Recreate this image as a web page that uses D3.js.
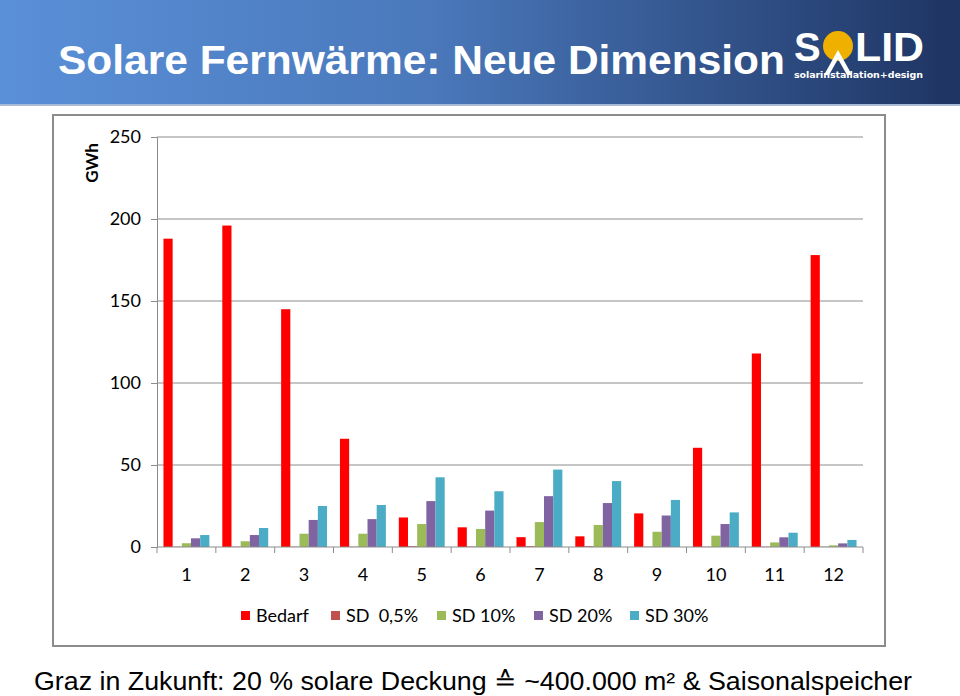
<!DOCTYPE html>
<html>
<head>
<meta charset="utf-8">
<script src="https://cdn.jsdelivr.net/npm/d3@7"></script>
<style>
  body { margin: 0; background: #fff; }
  svg { display: block; }
</style>
</head>
<body>
<svg id="slide" width="960" height="696"></svg>
<script>
// months 1..12
var months = ['1', '2', '3', '4', '5', '6', '7', '8', '9', '10', '11', '12'];
var seriesNames = ['Bedarf', 'SD  0,5%', 'SD 10%', 'SD 20%', 'SD 30%'];
var seriesColors = ['#ff0000', '#c0504d', '#9bbb59', '#8064a2', '#4bacc6'];

var bedarf = [188, 196, 145, 66, 18, 12, 6, 6.5, 20.5, 60.5, 118, 178];
var sd05   = [0.2, 0.2, 0.2, 0.2, 0.5, 0.3, 0.5, 0.5, 0.2, 0.2, 0.2, 0.2];
var sd10   = [2.3, 3.5, 8.1, 8.1, 14, 11, 15.2, 13.4, 9.3, 6.9, 2.8, 1];
var sd20   = [5.3, 7.3, 16.5, 17, 28, 22.2, 31, 26.8, 19.2, 14, 5.9, 2.2];
var sd30   = [7.3, 11.6, 25, 25.6, 42.5, 34, 47.2, 40.2, 28.7, 21.1, 8.7, 4.3];
var yTicks = [0, 50, 100, 150, 200, 250];

var allSeries = [bedarf, sd05, sd10, sd20, sd30];

var svg = d3.select('#slide');

// header band
var defs = svg.append('defs');
var grad = defs.append('linearGradient').attr('id', 'hdr');
grad.append('stop').attr('offset', '0%').attr('stop-color', '#5a90d8');
grad.append('stop').attr('offset', '45%').attr('stop-color', '#4a78bb');
grad.append('stop').attr('offset', '100%').attr('stop-color', '#1e3462');

svg.append('rect')
    .attr('width', 960).attr('height', 104)
    .style('fill', 'url(#hdr)');
svg.append('rect')
    .attr('y', 104).attr('width', 960).attr('height', 2)
    .style('fill', '#a9bcd6');

svg.append('text')
    .attr('x', 58).attr('y', 74)
    .style('font-family', 'Liberation Sans, Arial, sans-serif')
    .style('font-weight', 'bold')
    .style('font-size', '41px')
    .style('fill', '#fff')
    .attr('textLength', 727)
    .attr('lengthAdjust', 'spacingAndGlyphs')
    .text('Solare Fernwärme: Neue Dimension');

// logo
var logo = svg.append('g').attr('transform', 'translate(794,30)');
logo.append('circle').attr('cx', 44).attr('cy', 16).attr('r', 15).style('fill', '#f0b000');
logo.append('path')
    .attr('d', 'M30,45 L44,20 L58,45 L53,45 L44,29 L35,45 Z')
    .style('fill', '#fff');
logo.append('text')
    .attr('x', 0).attr('y', 31)
    .style('font-family', 'Liberation Sans, Arial, sans-serif')
    .style('font-weight', 'bold').style('font-size', '40px').style('fill', '#fff')
    .text('S');
logo.append('text')
    .attr('x', 61).attr('y', 31)
    .style('font-family', 'Liberation Sans, Arial, sans-serif')
    .style('font-weight', 'bold').style('font-size', '40px').style('fill', '#fff')
    .attr('textLength', 69)
    .attr('lengthAdjust', 'spacingAndGlyphs')
    .text('LID');
logo.append('text')
    .attr('x', 0).attr('y', 48)
    .style('font-family', 'DejaVu Sans, sans-serif')
    .style('font-weight', 'bold').style('font-size', '9.5px').style('fill', '#fff')
    .attr('textLength', 129)
    .text('solarinstallation+design');

// chart frame
svg.append('rect')
    .attr('x', 53).attr('y', 115).attr('width', 832).attr('height', 531)
    .style('fill', '#fff').style('stroke', '#8c8c8c').style('stroke-width', 2);

var margin = {left: 157, right: 863, top: 137, bottom: 547};
var font = 'Lato, "Open Sans", sans-serif';

var x0 = d3.scaleBand()
    .domain(months)
    .range([margin.left, margin.right])
    .paddingInner(0.22).paddingOuter(0.11);

var x1 = d3.scaleBand()
    .domain(d3.range(seriesNames.length))
    .range([0, x0.bandwidth()]);

var y = d3.scaleLinear()
    .domain([0, 250])
    .range([margin.bottom, margin.top]);

// gridlines
svg.append('g').selectAll('line')
    .data(yTicks.slice(1))
    .enter().append('line')
    .attr('x1', margin.left).attr('x2', margin.right)
    .attr('y1', y).attr('y2', y)
    .style('stroke', '#8c8c8c').style('stroke-width', 1);

// y axis
var yAxis = svg.append('g')
    .attr('transform', 'translate(' + margin.left + ',0)')
    .call(d3.axisLeft(y).tickValues(yTicks).tickSize(6).tickPadding(10));
yAxis.select('.domain').style('stroke', '#8c8c8c');
yAxis.selectAll('.tick line').style('stroke', '#8c8c8c');
yAxis.selectAll('text')
    .style('font-family', font).style('font-size', '18px').style('fill', '#000');

svg.append('text')
    .attr('transform', 'translate(98,163) rotate(-90)')
    .attr('text-anchor', 'middle')
    .style('font-family', font).style('font-weight', 'bold').style('font-size', '17px')
    .text('GWh');

// bars
var groups = svg.append('g').selectAll('g')
    .data(months)
    .enter().append('g')
    .attr('transform', function(d) { return 'translate(' + (x0(d) - x0.step() * 0.11) + ',0)'; });

groups.selectAll('rect')
    .data(function(d, i) { return allSeries.map(function(s, k) { return {k: k, v: s[i]}; }); })
    .enter().append('rect')
    .attr('x', function(d) { return x1(d.k) + x0.step() * 0.11; })
    .attr('width', x1.bandwidth())
    .attr('y', function(d) { return y(d.v); })
    .attr('height', function(d) { return y(0) - y(d.v); })
    .style('fill', function(d) { return seriesColors[d.k]; });

// x axis with ticks at boundaries
var boundaries = d3.range(months.length + 1).map(function(i) {
    return margin.left + i * (margin.right - margin.left) / months.length;
});
svg.append('line')
    .attr('x1', margin.left).attr('x2', margin.right)
    .attr('y1', y(0)).attr('y2', y(0))
    .style('stroke', '#8c8c8c');
svg.append('g').selectAll('line')
    .data(boundaries)
    .enter().append('line')
    .attr('x1', function(d) { return d; }).attr('x2', function(d) { return d; })
    .attr('y1', y(0)).attr('y2', y(0) + 6)
    .style('stroke', '#8c8c8c');
svg.append('g').selectAll('text')
    .data(months)
    .enter().append('text')
    .attr('x', function(d, i) { return (boundaries[i] + boundaries[i + 1]) / 2; })
    .attr('y', 581)
    .attr('text-anchor', 'middle')
    .style('font-family', font).style('font-size', '18px')
    .text(function(d) { return d; });

// legend
var legendX = [241, 331, 437, 534, 630];
var legend = svg.append('g').selectAll('g')
    .data(seriesNames)
    .enter().append('g')
    .attr('transform', function(d, i) { return 'translate(' + legendX[i] + ',611)'; });
legend.append('rect')
    .attr('width', 9).attr('height', 9)
    .style('fill', function(d, i) { return seriesColors[i]; });
legend.append('text')
    .attr('x', 15).attr('y', 11)
    .style('font-family', font).style('font-size', '18px')
    .style('white-space', 'pre')
    .attr('xml:space', 'preserve')
    .text(function(d) { return d; });

// caption
svg.append('text')
    .attr('x', 34).attr('y', 690)
    .style('font-family', 'Liberation Sans, Arial, sans-serif')
    .style('font-size', '26px')
    .attr('textLength', 878)
    .attr('lengthAdjust', 'spacingAndGlyphs')
    .text('Graz in Zukunft: 20 % solare Deckung  \u2259 ~400.000 m² & Saisonalspeicher');
</script>
</body>
</html>
